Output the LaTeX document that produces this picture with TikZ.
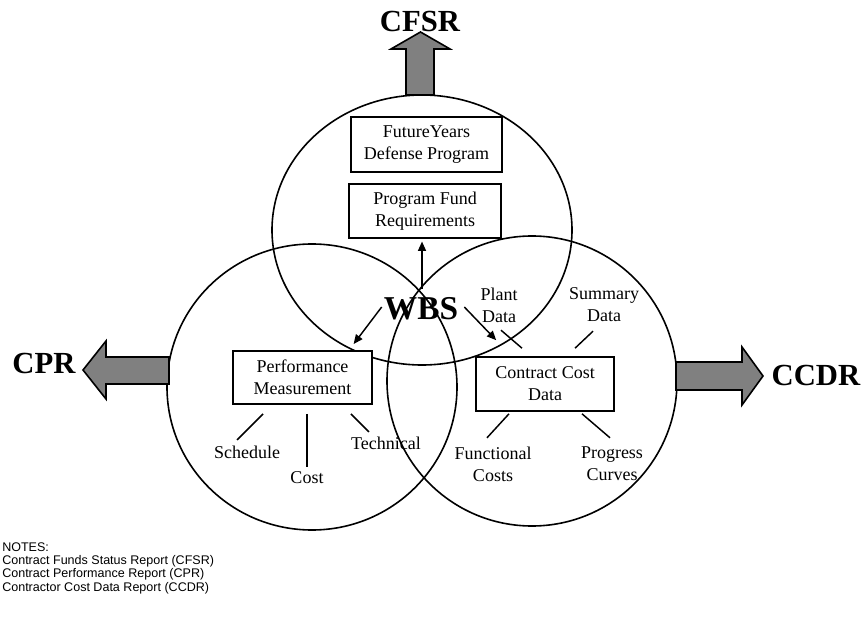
\documentclass[tikz,border=0pt]{standalone}
\usepackage{fontspec}
\setmainfont{Liberation Serif}
\newfontfamily\notefont{Liberation Sans}
\usetikzlibrary{arrows.meta, positioning}
\newcommand*{\lineW}{1.2pt}
\tikzset{
    ring/.style     = {line width=\lineW},
    box/.style      = {draw, rectangle, fill=white, line width=\lineW, inner sep=0pt, align=center, font=\fontsize{13.5}{16.5}\selectfont},
    item/.style     = {inner sep=0pt, align=center, font=\fontsize{13.5}{16.5}\selectfont},
    report/.style   = {inner sep=0pt, font=\fontsize{23}{26}\selectfont\bfseries},
    arrow/.style    = {line width=1.1pt, -{Triangle[length=7pt, width=6pt]}},
    tick/.style     = {line width=1.1pt},
    bigarrow/.style = {draw, fill=black!50, line width=\lineW, line join=miter}
}

\begin{document}
\begin{tikzpicture}[x=0.75pt, y=-0.75pt]
	\useasboundingbox (0,0) rectangle (864,620);

	% the three rings
	\coordinate (fundC) at (422,230);
	\coordinate (perfC) at (312,387);
	\coordinate (costC) at (532,381);
	\draw [ring] (fundC) ellipse [x radius=150, y radius=135];
	\draw [ring] (perfC) ellipse [x radius=145, y radius=143];
	\draw [ring] (costC) ellipse [x radius=145, y radius=145];

	% report arrows
	\draw [bigarrow] (406,95) -- (406,49) -- (391,49) -- (420.5,32) -- (450,49) -- (434,49) -- (434,95) -- cycle;
	\draw [bigarrow] (169,357) -- (106,357) -- (106,341) -- (83,370) -- (106,399) -- (106,384) -- (169,384) -- cycle;
	\draw [bigarrow] (676,362) -- (742,362) -- (742,347) -- (763,376) -- (742,405) -- (742,390) -- (676,390) -- cycle;

	\node (cfsr) [report] at (420,22) {CFSR};
	\node (cpr)  [report] at (44,363) {CPR};
	\node (ccdr) [report] at (816,375) {CCDR};

	% boxes
	\node (fydp) [box, minimum width=113pt, minimum height=41pt] at (426.5,144.5) {FutureYears\\Defense Program};
	\node (pfr)  [box, minimum width=114pt, minimum height=40.5pt, below=8pt of fydp, xshift=-1pt] {Program Fund\\Requirements};
	\node (perf) [box, minimum width=104pt, minimum height=40pt] at (302.5,377.5) {Performance\\Measurement};
	\node (ccd)  [box, minimum width=103.5pt, minimum height=40.5pt] at (545,384) {Contract Cost\\Data};

	\node (wbs) [report, font=\fontsize{25}{28}\selectfont\bfseries] at (421,309) {WBS};

	% items
	\node (plant)   [item] at (499,305) {Plant\\Data};
	\node (summary) [item] at (604,305) {Summary\\Data};
	\node (func)    [item] at (493,464) {Functional\\Costs};
	\node (prog)    [item] at (612,464) {Progress\\Curves};
	\node (sched)   [item] at (247,452) {Schedule};
	\node (cost)    [item] at (307,478) {Cost};
	\node (tech)    [item] at (386,443) {Technical};

	\draw [arrow, shorten >=2pt] (wbs.north) ++(1,-8) coordinate (up) -- (up |- pfr.south);
	\draw [arrow] ([shift={(-2,-2)}]wbs.west) -- ([shift={(-19,-6)}]perf.north east);
	\draw [arrow] ([shift={(6,-2)}]wbs.east) -- ([shift={(21,-16)}]ccd.north west);

	\draw [tick] ([shift={(-39.5,9)}]perf.south) -- ++(-26,26);
	\draw [tick] ([shift={(4.5,9)}]perf.south) -- ++(0,53);
	\draw [tick] ([shift={(48.5,9)}]perf.south) -- ++(18,18);
	\draw [tick] ([shift={(-23,-8)}]ccd.north) -- ++(-21,-18);
	\draw [tick] ([shift={(30,-8)}]ccd.north) -- ++(18,-17);
	\draw [tick] ([shift={(-36,2)}]ccd.south) -- ++(-22,24);
	\draw [tick] ([shift={(37,2)}]ccd.south) -- ++(28,24);

	\node (notes) [anchor=north west, inner sep=0pt, align=left, font=\notefont\fontsize{9.4}{10}\selectfont] at (2,542)
		{NOTES:\\Contract Funds Status Report (CFSR)\\Contract Performance Report (CPR)\\Contractor Cost Data Report (CCDR)};
\end{tikzpicture}
\end{document}
